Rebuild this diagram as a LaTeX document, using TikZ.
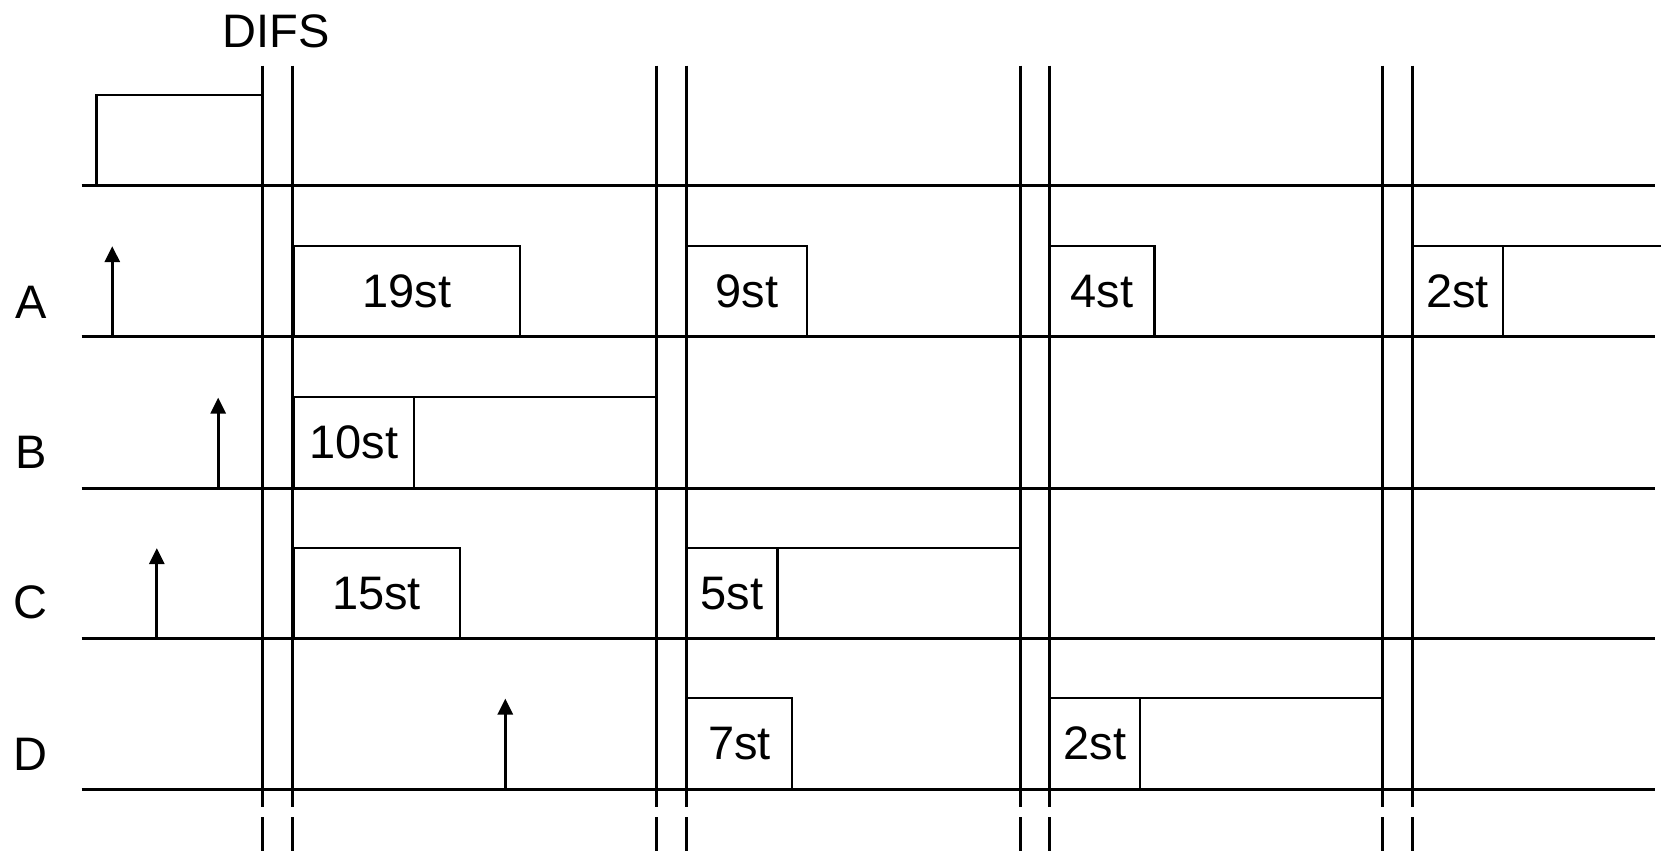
\documentclass[tikz,border=0pt]{standalone}
\usepackage{fontspec}
\setmainfont{Liberation Sans}
\usetikzlibrary{arrows.meta}
\begin{document}
\begin{tikzpicture}[x=1pt,y=-1pt,
  tline/.style={line width=3pt},
  slot/.style={draw, line width=2.3pt, inner sep=0pt, outer sep=0pt, minimum height=91pt, anchor=south west, font=\fontsize{47}{50}\selectfont},
  lbl/.style={font=\fontsize{47}{50}\selectfont, inner sep=0pt},
  arr/.style={line width=3pt, -{Triangle[length=16pt,width=15pt]}}]
\useasboundingbox (0,0) rectangle (1661,851);
% baselines
\foreach \y in {185.4,336.9,488.3,638.8,789.2}
  \draw[tline] (81.6,\y) -- (1654.6,\y);
% vertical DIFS lines
\foreach \x in {262.7,292.4,656.8,686.4,1020.1,1049.8,1382.4,1412.0}{
  \draw[tline] (\x,65.7) -- (\x,807);
  \draw[tline] (\x,817) -- (\x,851);
}
% labels
\node[lbl] (difs) at (276.5,31.8) {DIFS};
\node[lbl] (la) at (30.7,302) {A};
\node[lbl] (lb) at (30.7,452) {B};
\node[lbl] (lc) at (30.7,602) {C};
\node[lbl] (ld) at (30.7,754) {D};
% top frame
\node[slot, minimum width=166.3pt, minimum height=90.1pt] (tx0) at (96.4,185.4) {};
% row A
\node[slot, minimum width=226.7pt] (a1) at (293.4,336.9) {19st};
\node[slot, minimum width=120.8pt] (a2) at (686.4,336.9) {9st};
\node[slot, minimum width=104.8pt] (a3) at (1049.8,336.9) {4st};
\node[slot, minimum width=91.1pt] (a4) at (1412.0,336.9) {2st};
\draw[line width=2.3pt] (a4.north east) -- ++(160,0);
% row B
\node[slot, minimum width=120.8pt] (b1) at (293.4,488.3) {10st};
\node[slot, minimum width=242.6pt] (b2) at (414.2,488.3) {};
% row C
\node[slot, minimum width=166.3pt] (c1) at (293.4,638.8) {15st};
\node[slot, minimum width=91.1pt] (c2) at (686.4,638.8) {5st};
\node[slot, minimum width=242.6pt] (c3) at (777.5,638.8) {};
% row D
\node[slot, minimum width=105.9pt] (d1) at (686.4,789.2) {7st};
\node[slot, minimum width=90pt] (d2) at (1049.8,789.2) {2st};
\node[slot, minimum width=242.6pt] (d3) at (1139.8,789.2) {};
% arrivals
\coordinate (pa0) at (112.3,336.9); \coordinate (pa1) at (112.3,246.2);
\coordinate (pb0) at (218.2,488.3); \coordinate (pb1) at (218.2,397.6);
\coordinate (pc0) at (156.8,638.8); \coordinate (pc1) at (156.8,548.1);
\coordinate (pd0) at (505.3,789.2); \coordinate (pd1) at (505.3,698.5);
\draw[arr] (pa0) -- (pa1);
\draw[arr] (pb0) -- (pb1);
\draw[arr] (pc0) -- (pc1);
\draw[arr] (pd0) -- (pd1);
\end{tikzpicture}
\end{document}
